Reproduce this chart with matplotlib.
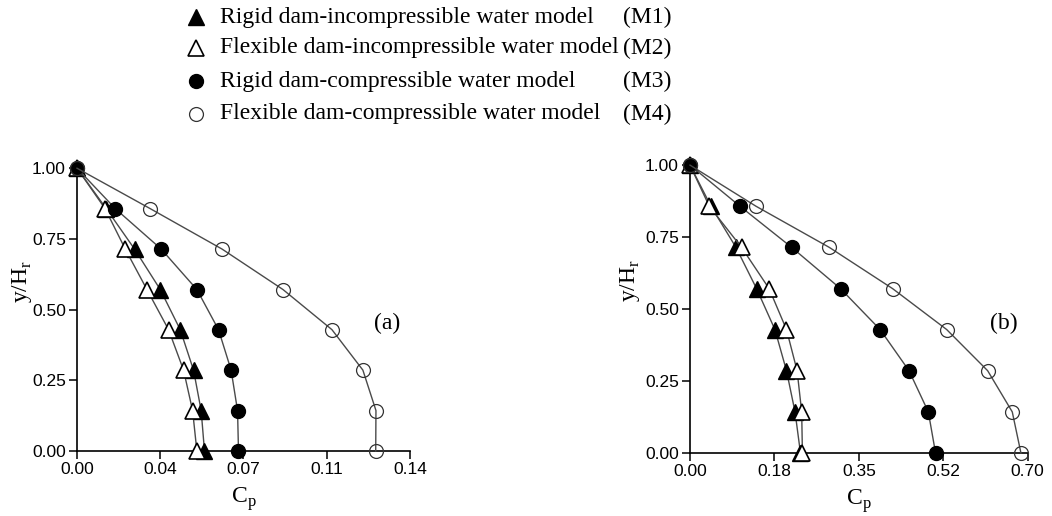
import matplotlib
matplotlib.use('Agg')
import matplotlib.pyplot as plt
from matplotlib.lines import Line2D

# depth ratio y/Hr (same for all curves)
y = [1.0, 0.857, 0.714, 0.571, 0.429, 0.286, 0.143, 0.0]

# panel (a)
a_m1 = [0.0, 0.0123, 0.0242, 0.0350, 0.0434, 0.0490, 0.0522, 0.0536]
a_m2 = [0.0, 0.0118, 0.0203, 0.0294, 0.0385, 0.0448, 0.0486, 0.0504]
a_m3 = [0.0, 0.0161, 0.0354, 0.0504, 0.0595, 0.0648, 0.0675, 0.0679]
a_m4 = [0.0, 0.0308, 0.0610, 0.0866, 0.1072, 0.1202, 0.1257, 0.1256]

# panel (b)
b_m1 = [0.0, 0.0435, 0.0954, 0.138, 0.176, 0.200, 0.2177, 0.229]
b_m2 = [0.0, 0.040, 0.107, 0.164, 0.200, 0.222, 0.2315, 0.233]
b_m3 = [0.0, 0.1037, 0.211, 0.312, 0.394, 0.454, 0.494, 0.509]
b_m4 = [0.0, 0.137, 0.289, 0.420, 0.532, 0.617, 0.668, 0.686]

a_xticks = [0.0, 0.035, 0.07, 0.105, 0.14]
a_xlabels = ['0.00', '0.04', '0.07', '0.11', '0.14']
b_xticks = [0.0, 0.175, 0.35, 0.525, 0.70]
b_xlabels = ['0.00', '0.18', '0.35', '0.52', '0.70']
yticks = [0.0, 0.25, 0.5, 0.75, 1.0]
ylabels = ['0.00', '0.25', '0.50', '0.75', '1.00']

names = ['Rigid dam-incompressible water model',
         'Flexible dam-incompressible water model',
         'Rigid dam-compressible water model',
         'Flexible dam-compressible water model']
codes = ['(M1)', '(M2)', '(M3)', '(M4)']

serif = 'Liberation Serif'
sans = 'Liberation Sans'
lc = '#4a4a4a'

styles = [dict(marker='^', mfc='black', mec='black', ms=11),
          dict(marker='^', mfc='white', mec='black', ms=11, mew=1.2),
          dict(marker='o', mfc='black', mec='black', ms=10),
          dict(marker='o', mfc='none', mec='#333333', ms=10, mew=0.9)]

fig = plt.figure(figsize=(10.52, 5.16), dpi=100)
ax_a = fig.add_axes([0.0732, 0.126, 0.3165, 0.548])
ax_b = fig.add_axes([0.6559, 0.122, 0.321, 0.558])

panels = [(ax_a, [a_m1, a_m2, a_m3, a_m4], a_xticks, a_xlabels, 0.14, '(a)', -0.129),
          (ax_b, [b_m1, b_m2, b_m3, b_m4], b_xticks, b_xlabels, 0.70, '(b)', -0.142)]

for ax, series, xt, xl, xmax, tag, lx in panels:
    # draw outer curves first so the filled markers stay on top
    for i in [3, 1, 2, 0]:
        ax.plot(series[i], y, color=lc, lw=1.0, clip_on=False, zorder=3 + i,
                **styles[i])
    ax.set_xlim(0, xmax)
    ax.set_ylim(0, 1)
    ax.set_xticks(xt)
    ax.set_xticklabels(xl, fontfamily=sans, fontsize=12.5)
    ax.set_yticks(yticks)
    ax.set_yticklabels(ylabels, fontfamily=sans, fontsize=12.5)
    ax.spines['top'].set_visible(False)
    ax.spines['right'].set_visible(False)
    ax.spines['left'].set_linewidth(1.2)
    ax.spines['bottom'].set_linewidth(1.2)
    ax.tick_params(direction='out', length=6, width=1.1, pad=2)
    ax.set_xlabel('C$_\\mathregular{p}$', fontfamily=serif, fontsize=17, labelpad=6)
    ax.set_ylabel('y/H$_\\mathregular{r}$', fontfamily=serif, fontsize=17)
    ax.yaxis.set_label_coords(lx, 0.6)
    ax.text(0.93, 0.45, tag, transform=ax.transAxes, fontfamily=serif,
            fontsize=17, ha='center', va='center')

# legend block at the top
rows = [17, 48, 81, 114]
for i in range(4):
    yy = 1 - rows[i] / 516
    fig.add_artist(Line2D([196 / 1052], [yy], transform=fig.transFigure,
                          ls='none', **styles[i]))
    fig.text(220 / 1052, yy, names[i], fontfamily=serif, fontsize=17,
             va='center', ha='left')
    fig.text(623 / 1052, yy, codes[i], fontfamily=serif, fontsize=17,
             va='center', ha='left')

fig.savefig('out.png', dpi=100)
